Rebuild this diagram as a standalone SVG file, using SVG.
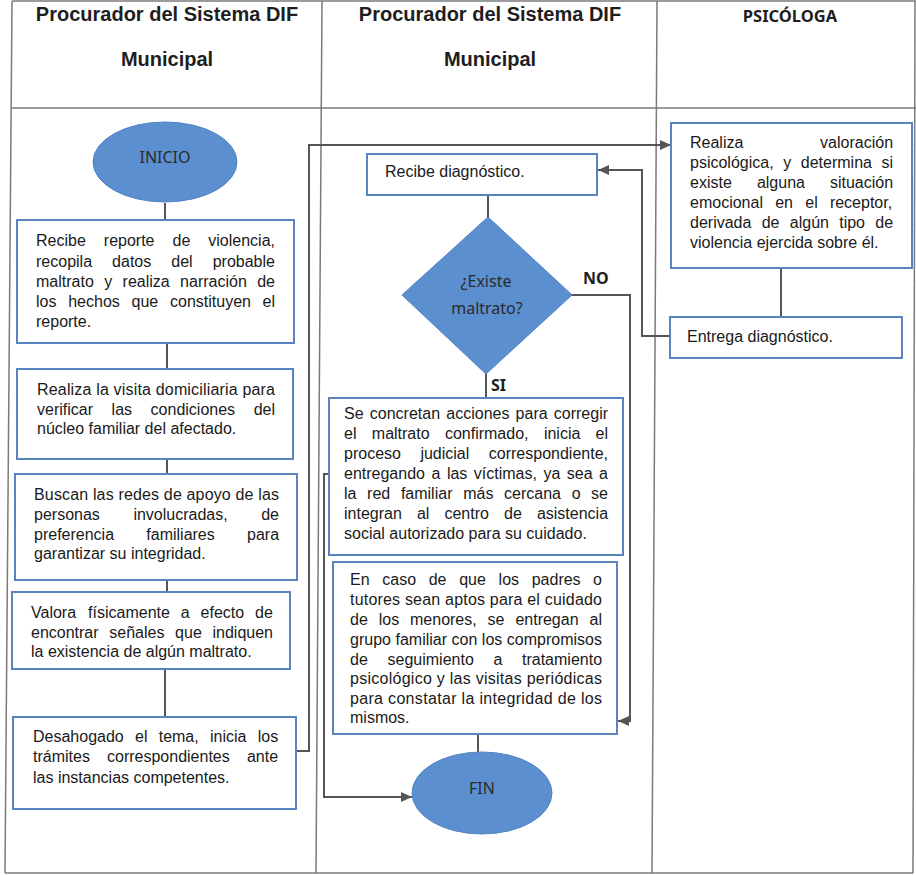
<svg xmlns="http://www.w3.org/2000/svg" width="916" height="875" viewBox="0 0 916 875">
<style>
.grid{stroke:#7a7a7a;stroke-width:1.5;fill:none}
.hd{font-family:"Liberation Sans",Arial,sans-serif;font-weight:bold;font-size:20px;fill:#1e1e1e;text-anchor:middle}
.hd2{font-family:"Noto Sans","Open Sans",sans-serif;font-weight:bold;font-size:16.5px;fill:#1e1e1e;text-anchor:middle}
.box{fill:#ffffff;stroke:#5a84bf;stroke-width:2}
.shape{fill:#5b8fd0;stroke:#5283c4;stroke-width:1}
.t{font-family:"Liberation Sans",Arial,sans-serif;font-size:16px;fill:#1a1a1a}
.st{font-family:"Noto Sans","Open Sans",sans-serif;font-size:16px;fill:#2b2b2b;text-anchor:middle}
.lbl{font-family:"Noto Sans","Open Sans",sans-serif;font-weight:bold;font-size:16px;fill:#1e1e1e}
.c{fill:none;stroke:#555555;stroke-width:2}
.ca{fill:none;stroke:#555555;stroke-width:2;marker-end:url(#arr)}
</style>
<defs>
<marker id="arr" markerUnits="userSpaceOnUse" markerWidth="12" markerHeight="10" refX="11" refY="5" orient="auto">
<path d="M0,0 L11,5 L0,10 z" fill="#555555"/>
</marker>
</defs>
<rect width="916" height="875" fill="#ffffff"/>
<g id="table">
<line class="grid" x1="12" y1="1" x2="916" y2="1"/>
<line class="grid" x1="12" y1="1" x2="5" y2="873"/>
<line class="grid" x1="5" y1="873" x2="913" y2="873"/>
<line class="grid" x1="915" y1="1" x2="913" y2="873"/>
<line class="grid" x1="12" y1="108" x2="916" y2="108"/>
<line class="grid" x1="322" y1="1" x2="316" y2="873"/>
<line class="grid" x1="657" y1="1" x2="652" y2="873"/>
<text class="hd" x="167" y="21">Procurador del Sistema DIF</text>
<text class="hd" x="167" y="66">Municipal</text>
<text class="hd" x="490" y="21">Procurador del Sistema DIF</text>
<text class="hd" x="490" y="66">Municipal</text>
<text class="hd2" x="790" y="22">PSICÓLOGA</text>
</g>
<g id="connectors">
<line class="c" x1="165" y1="203" x2="165" y2="220"/>
<line class="c" x1="167" y1="343" x2="167" y2="369"/>
<line class="c" x1="167" y1="459" x2="167" y2="474"/>
<line class="c" x1="167" y1="580" x2="167" y2="592"/>
<line class="c" x1="165" y1="669" x2="165" y2="717"/>
<polyline class="ca" points="296,751 309,751 309,145 671,145"/>
<line class="c" x1="781" y1="268" x2="781" y2="317"/>
<polyline class="ca" points="670,336 642,336 642,170 598,170"/>
<line class="c" x1="488" y1="195" x2="488" y2="218"/>
<polyline class="ca" points="572,295 630,295 630,721 618,721"/>
<line class="c" x1="486" y1="374" x2="486" y2="398"/>
<polyline class="ca" points="329,474 324,474 324,797 412,797"/>
<line class="c" x1="478" y1="734" x2="478" y2="752"/>
<text class="lbl" x="583" y="284">NO</text>
<text class="lbl" x="491" y="391">SI</text>
</g>
<g id="inicio">
<ellipse class="shape" cx="165" cy="162" rx="72" ry="40"/>
<text class="st" x="165" y="163">INICIO</text>
</g>
<g id="n1">
<rect class="box" x="17" y="220" width="277" height="123"/>
<text class="t" y="246"><tspan x="36">Recibe</tspan><tspan x="103.8">reporte</tspan><tspan x="172.5">de</tspan><tspan x="208.3">violencia,</tspan></text>
<text class="t" y="267"><tspan x="36">recopila</tspan><tspan x="112.1">datos</tspan><tspan x="171.3">del</tspan><tspan x="212.7">probable</tspan></text>
<text class="t" y="287"><tspan x="36">maltrato</tspan><tspan x="104.2">y</tspan><tspan x="122.6">realiza</tspan><tspan x="180.1">narración</tspan><tspan x="257.2">de</tspan></text>
<text class="t" y="307"><tspan x="36">los</tspan><tspan x="68.2">hechos</tspan><tspan x="131.5">que</tspan><tspan x="170">constituyen</tspan><tspan x="262.6">el</tspan></text>
<text class="t" x="36" y="327">reporte.</text>
</g>
<g id="n2">
<rect class="box" x="17" y="369" width="276" height="90"/>
<text class="t" x="37" y="395" textLength="238" lengthAdjust="spacing">Realiza la visita domiciliaria para</text>
<text class="t" y="415"><tspan x="37">verificar</tspan><tspan x="111.6">las</tspan><tspan x="150.6">condiciones</tspan><tspan x="253.7">del</tspan></text>
<text class="t" x="37" y="434">núcleo familiar del afectado.</text>
</g>
<g id="n3">
<rect class="box" x="15" y="474" width="282" height="106"/>
<text class="t" x="34" y="500" textLength="245" lengthAdjust="spacing">Buscan las redes de apoyo de las</text>
<text class="t" y="520"><tspan x="34">personas</tspan><tspan x="133.4">involucradas,</tspan><tspan x="261.2">de</tspan></text>
<text class="t" y="540"><tspan x="34">preferencia</tspan><tspan x="146.3">familiares</tspan><tspan x="247">para</tspan></text>
<text class="t" x="34" y="559">garantizar su integridad.</text>
</g>
<g id="n4">
<rect class="box" x="12" y="592" width="278" height="77"/>
<text class="t" y="618"><tspan x="31">Valora</tspan><tspan x="88.1">físicamente</tspan><tspan x="180.8">a</tspan><tspan x="200.6">efecto</tspan><tspan x="255.1">de</tspan></text>
<text class="t" y="638"><tspan x="31">encontrar</tspan><tspan x="109.3">señales</tspan><tspan x="175.1">que</tspan><tspan x="212.5">indiquen</tspan></text>
<text class="t" x="31" y="657">la existencia de algún maltrato.</text>
</g>
<g id="n5">
<rect class="box" x="13" y="717" width="283" height="92"/>
<text class="t" y="742"><tspan x="33">Desahogado</tspan><tspan x="135">el</tspan><tspan x="158.7">tema,</tspan><tspan x="210">inicia</tspan><tspan x="257.7">los</tspan></text>
<text class="t" y="762"><tspan x="33">trámites</tspan><tspan x="107">correspondientes</tspan><tspan x="246.9">ante</tspan></text>
<text class="t" x="33" y="783">las instancias competentes.</text>
</g>
<g id="recibe">
<rect class="box" x="367" y="154" width="230" height="41"/>
<text class="t" x="385" y="177">Recibe diagnóstico.</text>
</g>
<g id="decision">
<polygon class="shape" points="488,217 572,295 486,374 402,295"/>
<text class="st" x="486" y="287">¿Existe</text>
<text class="st" x="487" y="314">maltrato?</text>
</g>
<g id="n6">
<rect class="box" x="329" y="398" width="294" height="157"/>
<text class="t" y="419"><tspan x="344">Se</tspan><tspan x="369.8">concretan</tspan><tspan x="446.3">acciones</tspan><tspan x="515.6">para</tspan><tspan x="553.8">corregir</tspan></text>
<text class="t" y="439"><tspan x="344">el</tspan><tspan x="371.8">maltrato</tspan><tspan x="444.9">confirmado,</tspan><tspan x="543.9">inicia</tspan><tspan x="595.6">el</tspan></text>
<text class="t" y="459"><tspan x="344">proceso</tspan><tspan x="420.4">judicial</tspan><tspan x="488.8">correspondiente,</tspan></text>
<text class="t" y="479"><tspan x="344">entregando</tspan><tspan x="431.5">a</tspan><tspan x="446.9">las</tspan><tspan x="473.8">víctimas,</tspan><tspan x="543.4">ya</tspan><tspan x="566.8">sea</tspan><tspan x="599.1">a</tspan></text>
<text class="t" y="499"><tspan x="344">la</tspan><tspan x="367.1">red</tspan><tspan x="400.9">familiar</tspan><tspan x="463.2">más</tspan><tspan x="504.1">cercana</tspan><tspan x="571.7">o</tspan><tspan x="591.1">se</tspan></text>
<text class="t" y="519"><tspan x="344">integran</tspan><tspan x="416.9">al</tspan><tspan x="444.4">centro</tspan><tspan x="504">de</tspan><tspan x="536.9">asistencia</tspan></text>
<text class="t" x="344" y="539">social autorizado para su cuidado.</text>
</g>
<g id="n7">
<rect class="box" x="333" y="562" width="284" height="172"/>
<text class="t" y="585"><tspan x="350">En</tspan><tspan x="382.3">caso</tspan><tspan x="428.7">de</tspan><tspan x="459.2">que</tspan><tspan x="498.6">los</tspan><tspan x="531.7">padres</tspan><tspan x="593.1">o</tspan></text>
<text class="t" x="350" y="605" textLength="252" lengthAdjust="spacing">tutores sean aptos para el cuidado</text>
<text class="t" y="625"><tspan x="350">de</tspan><tspan x="378.7">los</tspan><tspan x="410">menores,</tspan><tspan x="487.6">se</tspan><tspan x="515.4">entregan</tspan><tspan x="589.6">al</tspan></text>
<text class="t" x="350" y="645" textLength="252" lengthAdjust="spacing">grupo familiar con los compromisos</text>
<text class="t" y="665"><tspan x="350">de</tspan><tspan x="387.5">seguimiento</tspan><tspan x="493.5">a</tspan><tspan x="522">tratamiento</tspan></text>
<text class="t" x="350" y="684" textLength="252" lengthAdjust="spacing">psicológico y las visitas periódicas</text>
<text class="t" x="350" y="704" textLength="252" lengthAdjust="spacing">para constatar la integridad de los</text>
<text class="t" x="350" y="723">mismos.</text>
</g>
<g id="fin">
<ellipse class="shape" cx="482" cy="793" rx="70" ry="41"/>
<text class="st" x="482" y="794">FIN</text>
</g>
<g id="p1">
<rect class="box" x="671" y="123" width="241" height="145"/>
<text class="t" y="148"><tspan x="690">Realiza</tspan><tspan x="820.1">valoración</tspan></text>
<text class="t" y="168"><tspan x="690">psicológica,</tspan><tspan x="783.2">y</tspan><tspan x="800.8">determina</tspan><tspan x="881.4">si</tspan></text>
<text class="t" y="188"><tspan x="690">existe</tspan><tspan x="756.9">alguna</tspan><tspan x="829.9">situación</tspan></text>
<text class="t" y="208"><tspan x="690">emocional</tspan><tspan x="775.2">en</tspan><tspan x="805.3">el</tspan><tspan x="829.9">receptor,</tspan></text>
<text class="t" y="228"><tspan x="690">derivada</tspan><tspan x="761.7">de</tspan><tspan x="789.8">algún</tspan><tspan x="839.2">tipo</tspan><tspan x="875.3">de</tspan></text>
<text class="t" x="690" y="248">violencia ejercida sobre él.</text>
</g>
<g id="p2">
<rect class="box" x="670" y="317" width="232" height="41"/>
<text class="t" x="687" y="342">Entrega diagnóstico.</text>
</g>
</svg>
